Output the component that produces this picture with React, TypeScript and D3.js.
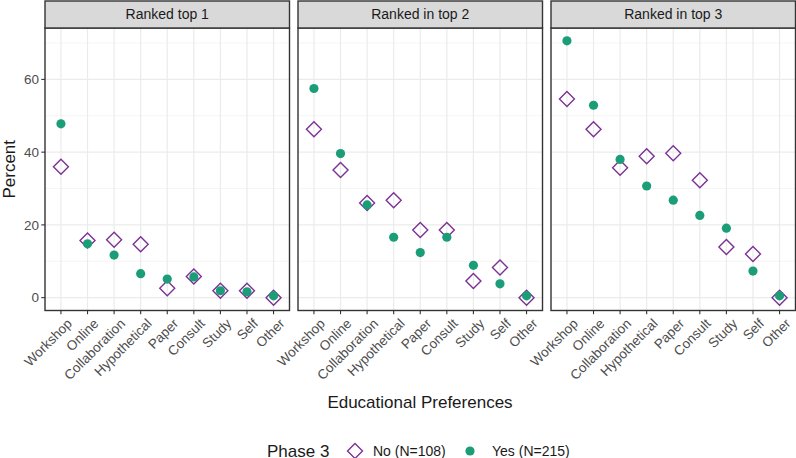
import React from "react";
import * as d3 from "d3";

const categories = ["Workshop", "Online", "Collaboration", "Hypothetical", "Paper", "Consult", "Study", "Self", "Other"];
const panels = ["Ranked top 1", "Ranked in top 2", "Ranked in top 3"];
const yesTop1 = [47.8, 14.8, 11.7, 6.6, 5.1, 5.7, 1.9, 1.6, 0.5];
const noTop1 = [36.0, 15.7, 15.9, 14.7, 2.6, 5.8, 1.9, 1.9, 0];
const yesTop2 = [57.5, 39.6, 25.5, 16.6, 12.4, 16.6, 8.9, 3.8, 0.5];
const noTop2 = [46.3, 35.1, 26.0, 26.8, 18.6, 18.6, 4.6, 8.3, 0];
const yesTop3 = [70.6, 52.9, 38.0, 30.7, 26.8, 22.6, 19.1, 7.3, 0.5];
const noTop3 = [54.6, 46.3, 35.7, 38.9, 39.7, 32.3, 13.9, 12.0, 0];
const yTicks = [0, 20, 40, 60];
const yMinor = [10, 30, 50, 70];
const legendTitle = "Phase 3";
const legendNo = "No (N=108)";
const legendYes = "Yes (N=215)";

const FONT = "'Liberation Sans', Arial, sans-serif";
const TEAL = "#1B9E77";
const PURPLE = "#7B3294";

export default function App() {
  const W = 796, H = 458;
  const panelW = 244.5, step = 253, left0 = 45;
  const stripTop = 1, top = 28, bottom = 310.5;
  const maxV = d3.max([...yesTop3, ...noTop3, ...yesTop2, ...noTop2, ...yesTop1, ...noTop1]) as number;
  const y = d3.scaleLinear().domain([-0.05 * maxV, 1.05 * maxV]).range([bottom, top]);
  const series = [
    { yes: yesTop1, no: noTop1 },
    { yes: yesTop2, no: noTop2 },
    { yes: yesTop3, no: noTop3 },
  ];
  const diamond = (cx: number, cy: number, r: number) =>
    `M${cx},${cy - r}L${cx + r},${cy}L${cx},${cy + r}L${cx - r},${cy}Z`;

  return (
    <svg width={W} height={H} style={{ position: "absolute", left: 0, top: 0, background: "#fff" }} fontFamily={FONT}>
      {panels.map((p, i) => {
        const x0 = left0 + i * step;
        const x = d3.scalePoint().domain(categories).range([x0, x0 + panelW]).padding(0.6);
        const s = series[i];
        return (
          <g key={p}>
            <rect x={x0} y={top} width={panelW} height={bottom - top} fill="#fff" />
            {yMinor.map((t) => (
              <line key={"m" + t} x1={x0} x2={x0 + panelW} y1={y(t)} y2={y(t)} stroke="#F2F2F2" strokeWidth={0.8} />
            ))}
            {yTicks.map((t) => (
              <line key={"g" + t} x1={x0} x2={x0 + panelW} y1={y(t)} y2={y(t)} stroke="#EBEBEB" strokeWidth={1.2} />
            ))}
            {categories.map((c) => (
              <line key={"v" + c} x1={x(c)} x2={x(c)} y1={top} y2={bottom} stroke="#EBEBEB" strokeWidth={1.2} />
            ))}
            {categories.map((c, j) => (
              <path key={"n" + c} d={diamond(x(c) as number, y(s.no[j]), 7.5)} fill="none" stroke={PURPLE} strokeWidth={1.4} />
            ))}
            {categories.map((c, j) => (
              <circle key={"y" + c} cx={x(c)} cy={y(s.yes[j])} r={4.6} fill={TEAL} />
            ))}
            <rect x={x0} y={top} width={panelW} height={bottom - top} fill="none" stroke="#333" strokeWidth={1.4} />
            <rect x={x0} y={stripTop} width={panelW} height={top - stripTop} fill="#D9D9D9" stroke="#333" strokeWidth={1.4} />
            <text x={x0 + panelW / 2} y={(stripTop + top) / 2} dy="0.35em" textAnchor="middle" fontSize={14} fill="#1A1A1A">
              {p}
            </text>
            {categories.map((c) => (
              <g key={"t" + c}>
                <line x1={x(c)} x2={x(c)} y1={bottom} y2={bottom + 3.7} stroke="#333" strokeWidth={1.1} />
                <text
                  transform={`translate(${(x(c) as number) + 5},${bottom + 7}) rotate(-45)`}
                  textAnchor="end"
                  dy="0.72em"
                  fontSize={13.5}
                  fill="#4D4D4D"
                >
                  {c}
                </text>
              </g>
            ))}
          </g>
        );
      })}
      {yTicks.map((t) => (
        <g key={"yt" + t}>
          <line x1={left0 - 3.7} x2={left0} y1={y(t)} y2={y(t)} stroke="#333" strokeWidth={1.1} />
          <text x={left0 - 6} y={y(t)} dy="0.35em" textAnchor="end" fontSize={13.5} fill="#4D4D4D">
            {t}
          </text>
        </g>
      ))}
      <text transform={`translate(15,${(top + bottom) / 2}) rotate(-90)`} textAnchor="middle" fontSize={17} fill="#1A1A1A">
        Percent
      </text>
      <text x={420} y={402} dy="0.35em" textAnchor="middle" fontSize={17} fill="#1A1A1A">
        Educational Preferences
      </text>
      <g>
        <text x={267} y={451} dy="0.35em" fontSize={17} fill="#1A1A1A">
          {legendTitle}
        </text>
        <path d={diamond(355, 451, 7.5)} fill="none" stroke={PURPLE} strokeWidth={1.4} />
        <text x={373} y={451} dy="0.35em" fontSize={14} fill="#1A1A1A">
          {legendNo}
        </text>
        <circle cx={470} cy={451} r={4.6} fill={TEAL} />
        <text x={492} y={451} dy="0.35em" fontSize={14} fill="#1A1A1A">
          {legendYes}
        </text>
      </g>
    </svg>
  );
}
